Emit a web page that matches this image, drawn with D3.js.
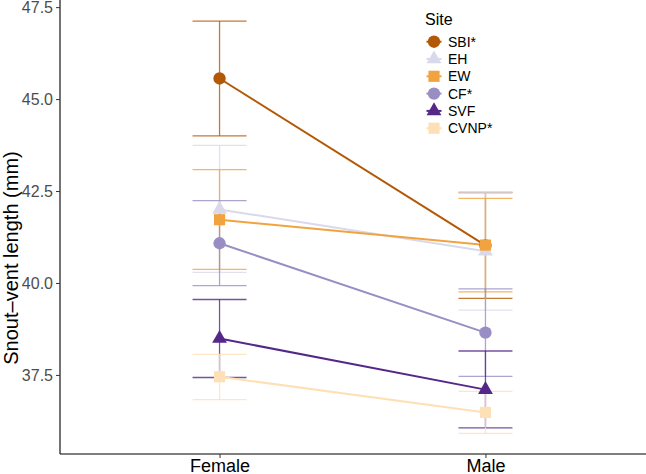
<!DOCTYPE html>
<html>
<head>
<meta charset="utf-8">
<script src="https://cdn.jsdelivr.net/npm/d3@7"></script>
<style>
  body { margin: 0; background: #fff; }
  svg { display: block; font-family: "Liberation Sans", Arial, Helvetica, sans-serif; }
</style>
</head>
<body>
<svg id="chart" width="646" height="474"></svg>
<script>
// categories
const sexes = ["Female", "Male"];
const sites = ["SBI*", "EH", "EW", "CF*", "SVF", "CVNP*"];
const siteColors = ["#b35806", "#d8daeb", "#f1a340", "#998ec3", "#542788", "#fee0b6"];
const siteShapes = ["circle", "triangle", "square", "circle", "triangle", "square"];

// means and error bar ends, one entry per site, [Female, Male]
const meanSVL  = [[45.56, 41.02], [42.00, 40.86], [41.72, 41.03], [41.08, 38.65], [38.49, 37.10], [37.45, 36.48]];
const lowerSVL = [[44.00, 39.58], [40.29, 39.26], [40.37, 39.76], [39.93, 37.46], [37.43, 36.06], [36.83, 35.91]];
const upperSVL = [[47.12, 42.46], [43.74, 42.46], [43.08, 42.30], [42.24, 39.84], [39.55, 38.15], [38.06, 37.05]];

const yTicks = [37.5, 40.0, 42.5, 45.0, 47.5];

const svg = d3.select("#chart");
const panel = { left: 60, right: 645, top: 0.5, bottom: 454 };

// build rows for drawing
const rows = [];
sites.forEach((s, i) => {
    sexes.forEach((sex, j) => {
        rows.push({ site: s, idx: i, sex: sex, mean: meanSVL[i][j], lo: lowerSVL[i][j], hi: upperSVL[i][j] });
    });
});

// discrete x scale with ggplot-like 0.6 expansion
const x = d3.scalePoint()
    .domain(sexes)
    .range([panel.left, panel.right])
    .padding(0.6);

const yMin = d3.min(rows, d => d.lo), yMax = d3.max(rows, d => d.hi);
const pad = (yMax - yMin) * 0.05;
const y = d3.scaleLinear()
    .domain([yMin - pad, yMax + pad])
    .range([panel.bottom, panel.top]);

const color = d3.scaleOrdinal().domain(sites).range(siteColors);

function symbolPath(shape) {
    if (shape === "circle") return d3.symbol(d3.symbolCircle, 120)();
    if (shape === "square") return d3.symbol(d3.symbolSquare, 125)();
    return d3.symbol(d3.symbolTriangle, 95)();
}

// axes
const yAxis = svg.append("g")
    .attr("transform", `translate(${panel.left},0)`)
    .call(d3.axisLeft(y).tickValues(yTicks).tickFormat(d3.format(".1f")).tickSize(4).tickPadding(3));
yAxis.select(".domain").attr("d", `M0,${panel.top - 0.5}V${panel.bottom}`).attr("stroke", "#000").attr("stroke-width", 1.1);
yAxis.selectAll(".tick line").attr("stroke", "#333");
yAxis.selectAll(".tick text").attr("font-size", 16).attr("fill", "#4d4d4d").attr("dy", "0.36em");

const xAxis = svg.append("g")
    .attr("transform", `translate(0,${panel.bottom})`)
    .call(d3.axisBottom(x).tickSize(4).tickPadding(3));
xAxis.select(".domain").attr("d", `M${panel.left},0H${panel.right + 1}`).attr("stroke", "#000").attr("stroke-width", 1.1);
xAxis.selectAll(".tick line").attr("stroke", "#333");
xAxis.selectAll(".tick text")
    .attr("font-size", 18)
    .attr("fill", "#000")
    .attr("y", 17.5)
    .attr("dy", null);

// y axis title
svg.append("text")
    .attr("transform", "translate(17.5,258) rotate(-90)")
    .attr("text-anchor", "middle")
    .attr("font-size", 20)
    .attr("fill", "#000")
    .text("Snout–vent length (mm)");

const plot = svg.append("g");

// error bars
const capHalf = 27;
const eb = plot.append("g").selectAll("g")
    .data(rows)
    .join("g")
    .attr("stroke", d => color(d.site))
    .attr("stroke-opacity", 0.8)
    .attr("stroke-width", 1.3)
    .attr("fill", "none");
eb.append("line")
    .attr("x1", d => x(d.sex)).attr("x2", d => x(d.sex))
    .attr("y1", d => y(d.lo)).attr("y2", d => y(d.hi));
eb.append("line")
    .attr("x1", d => x(d.sex) - capHalf).attr("x2", d => x(d.sex) + capHalf)
    .attr("y1", d => y(d.hi)).attr("y2", d => y(d.hi));
eb.append("line")
    .attr("x1", d => x(d.sex) - capHalf).attr("x2", d => x(d.sex) + capHalf)
    .attr("y1", d => y(d.lo)).attr("y2", d => y(d.lo));

// connecting lines
const line = d3.line().x(d => x(d.sex)).y(d => y(d.mean));
plot.append("g").selectAll("path")
    .data(d3.groups(rows, d => d.site))
    .join("path")
    .attr("d", d => line(d[1]))
    .attr("fill", "none")
    .attr("stroke", d => color(d[0]))
    .attr("stroke-width", 2);

// points
plot.append("g").selectAll("path")
    .data(rows)
    .join("path")
    .attr("transform", d => `translate(${x(d.sex)},${y(d.mean)})`)
    .attr("d", d => symbolPath(siteShapes[d.idx]))
    .attr("fill", d => color(d.site));

// legend
const legend = svg.append("g").attr("transform", "translate(425,0)");
legend.append("text")
    .attr("x", 0).attr("y", 25)
    .attr("font-size", 16)
    .attr("fill", "#000")
    .text("Site");
const item = legend.selectAll("g.item")
    .data(sites)
    .join("g")
    .attr("class", "item")
    .attr("transform", (d, i) => `translate(9,${41.7 + i * 17.3})`);
item.append("line")
    .attr("x1", -7.5).attr("x2", 7.5)
    .attr("stroke", d => color(d))
    .attr("stroke-width", 2);
item.append("path")
    .attr("d", (d, i) => symbolPath(siteShapes[i]))
    .attr("fill", d => color(d));
item.append("text")
    .attr("x", 14).attr("dy", "0.36em")
    .attr("font-size", 14)
    .attr("fill", "#000")
    .text(d => d);
</script>
</body>
</html>
